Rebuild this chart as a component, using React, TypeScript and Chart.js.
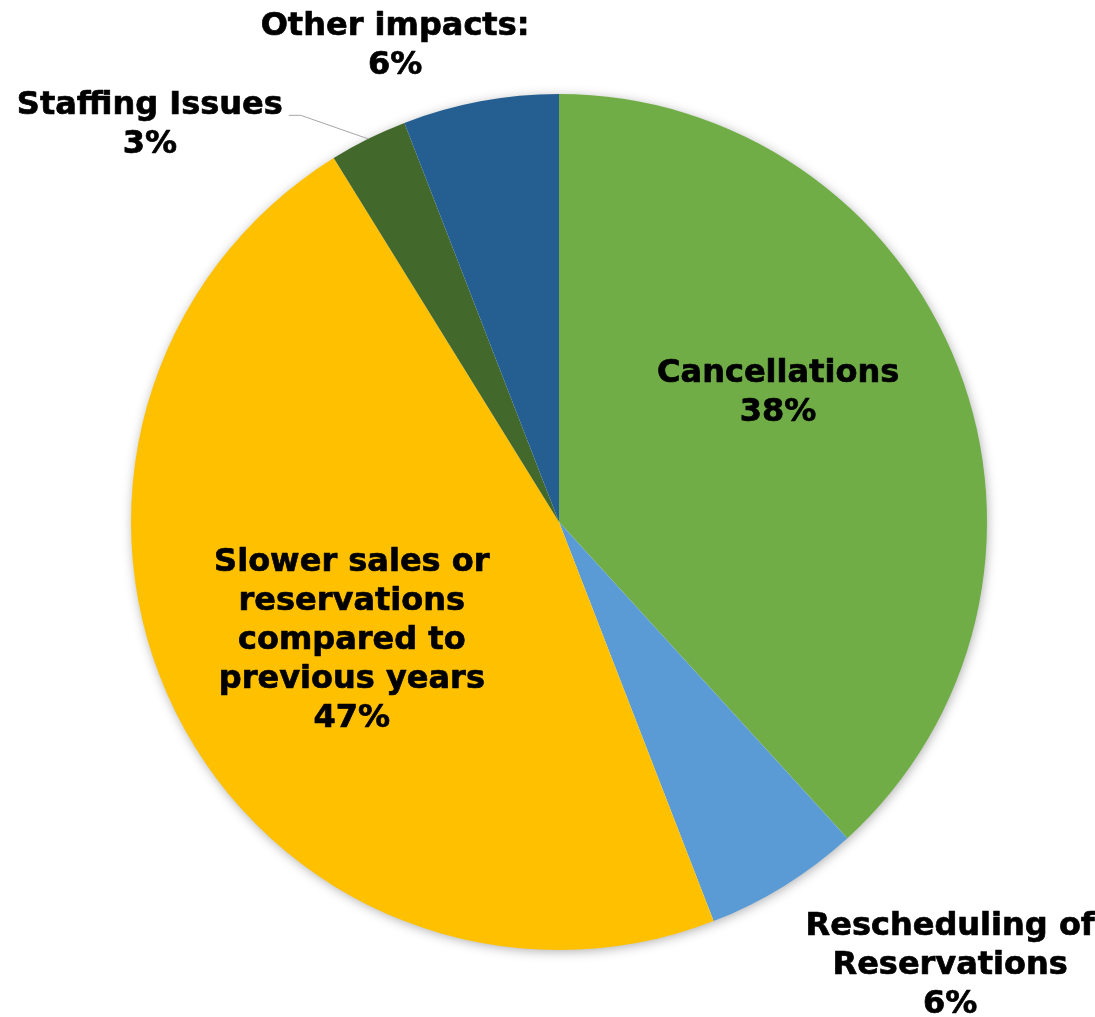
import React, { useEffect, useRef } from "react";
import { Chart, registerables } from "chart.js";

Chart.register(...registerables);

// ---- data ----
const categories: string[][] = [
  ["Cancellations"],
  ["Rescheduling of", "Reservations"],
  ["Slower sales or", "reservations", "compared to", "previous years"],
  ["Staffing Issues"],
  ["Other impacts:"],
];
const counts: number[] = [13, 2, 16, 1, 2];
const sliceColors: string[] = ["#70AD47", "#5B9BD5", "#FFC000", "#43682B", "#255E91"];

// ---- label layout (offsets relative to pie centre, in units of radius) ----
const labelOffsets: [number, number][] = [
  [0.512, -0.3],
  [0.914, 1.037],
  [-0.484, 0.277],
  [-0.956, -0.928],
  [-0.383, -1.112],
];
const leaderLineFor = [false, false, false, true, false];

const FONT = 'bold 32px "DejaVu Sans", Verdana, sans-serif';
const LINE_H = 39;

const shadowPlugin = {
  id: "pieShadow",
  beforeDatasetsDraw(chart: any) {
    const meta = chart.getDatasetMeta(0);
    const arc = meta.data[0];
    if (!arc) return;
    const { x, y, outerRadius } = arc.getProps(["x", "y", "outerRadius"], true);
    const ctx = chart.ctx;
    ctx.save();
    ctx.shadowColor = "rgba(0,0,0,0.35)";
    ctx.shadowBlur = 12;
    ctx.shadowOffsetX = 1;
    ctx.shadowOffsetY = 2;
    ctx.fillStyle = "#ffffff";
    ctx.beginPath();
    ctx.arc(x, y, outerRadius - 1, 0, Math.PI * 2);
    ctx.fill();
    ctx.restore();
  },
};

const labelPlugin = {
  id: "pieLabels",
  afterDatasetsDraw(chart: any) {
    const meta = chart.getDatasetMeta(0);
    const ctx = chart.ctx;
    const total = counts.reduce((a, b) => a + b, 0);
    ctx.save();
    ctx.font = FONT;
    ctx.fillStyle = "#000000";
    ctx.strokeStyle = "#000000";
    ctx.lineWidth = 0.7;
    ctx.lineJoin = "round";
    ctx.textAlign = "center";
    ctx.textBaseline = "middle";
    meta.data.forEach((arc: any, i: number) => {
      const { x, y, outerRadius, startAngle, endAngle } = arc.getProps(
        ["x", "y", "outerRadius", "startAngle", "endAngle"],
        true
      );
      const lines = [...categories[i], Math.round((counts[i] / total) * 100) + "%"];
      const lx = x + labelOffsets[i][0] * outerRadius;
      const ly = y + labelOffsets[i][1] * outerRadius;
      const n = lines.length;
      lines.forEach((t, k) => {
        const ty = ly + (k - (n - 1) / 2) * LINE_H;
        ctx.fillText(t, lx, ty);
        ctx.strokeText(t, lx, ty);
      });
      if (leaderLineFor[i]) {
        const mid = (startAngle + endAngle) / 2;
        const ex = x + Math.cos(mid) * outerRadius;
        const ey = y + Math.sin(mid) * outerRadius;
        const w = ctx.measureText(categories[i][0]).width;
        const sx = lx + w / 2 + 6;
        const sy = ly - ((n - 1) / 2) * LINE_H + 10;
        ctx.save();
        ctx.strokeStyle = "#A6A6A6";
        ctx.lineWidth = 1;
        ctx.beginPath();
        ctx.moveTo(sx, sy);
        ctx.lineTo(sx + 12, sy);
        ctx.lineTo(ex, ey);
        ctx.stroke();
        ctx.restore();
      }
    });
    ctx.restore();
  },
};

export default function App() {
  const ref = useRef<HTMLCanvasElement | null>(null);
  useEffect(() => {
    document.body.style.margin = "0";
    const canvas = ref.current;
    if (!canvas) return;
    const chart = new Chart(canvas, {
      type: "pie",
      data: {
        labels: categories.map((c) => c.join(" ")),
        datasets: [
          {
            data: counts,
            backgroundColor: sliceColors,
            borderWidth: 0,
          },
        ],
      },
      options: {
        responsive: false,
        animation: false,
        layout: { padding: { left: 131, right: 108, top: 94, bottom: 67 } },
        plugins: {
          legend: { display: false },
          tooltip: { enabled: false },
        },
      },
      plugins: [shadowPlugin, labelPlugin],
    });
    return () => chart.destroy();
  }, []);
  return (
    <div style={{ width: 1095, height: 1017, background: "#ffffff" }}>
      <canvas ref={ref} width={1095} height={1017} />
    </div>
  );
}
